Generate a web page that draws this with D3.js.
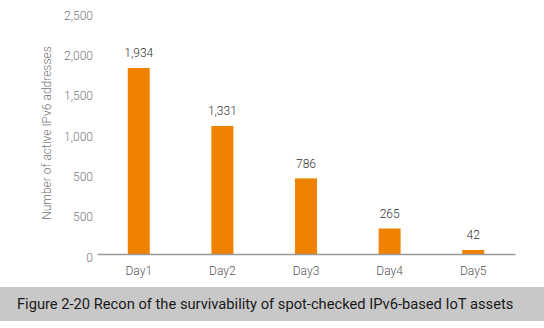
<!DOCTYPE html>
<html><head><meta charset="utf-8">
<script src="https://cdn.jsdelivr.net/npm/d3@7"></script>
<style>
html,body{margin:0;padding:0;background:#fff;}
svg{display:block;}
</style></head>
<body>
<svg id="chart" width="544" height="328"></svg>
<script>
const categories = ["Day1","Day2","Day3","Day4","Day5"];
const values = [1934, 1331, 786, 265, 42];
const valueLabels = ["1,934","1,331","786","265","42"];
const tickLabels = ["0","500","500","1,000","1,500","2,000","2,500"];
const yTitle = "Number of active IPv6 addresses";
const caption = "Figure 2-20 Recon of the survivability of spot-checked IPv6-based IoT assets";

const svg = d3.select("#chart");
const font = "Roboto, 'Noto Sans', sans-serif";

const x = d3.scaleBand().domain(categories).range([97, 515]).paddingInner(0.737).paddingOuter(0.368);
const y = d3.scaleLinear().domain([0, 2500]).range([254, 13.5]);
// tick labels are evenly spaced (as in the source), from label 0 just below the axis to the top
const yTick = d3.scaleLinear().domain([0, tickLabels.length - 1]).range([257, 15]);

// y axis labels
const yAxis = d3.axisLeft(yTick)
  .tickValues(d3.range(tickLabels.length))
  .tickFormat(i => tickLabels[i])
  .tickSize(0).tickPadding(0);
const gy = svg.append("g").attr("transform", "translate(93,0)").call(yAxis);
gy.select(".domain").remove();
gy.selectAll("text").attr("font-family", font).attr("font-size", 12).attr("font-weight", 300).attr("fill", "#777").attr("dy", "0.34em");

// bars
svg.append("g").selectAll("rect").data(values).join("rect")
  .attr("x", (d, i) => x(categories[i]))
  .attr("width", x.bandwidth())
  .attr("y", d => y(d))
  .attr("height", d => y(0) - y(d))
  .attr("fill", "#ef8200");

// value labels
svg.append("g").selectAll("text").data(values).join("text")
  .attr("x", (d, i) => x(categories[i]) + x.bandwidth() / 2)
  .attr("y", d => y(d) - 15)
  .attr("dy", "0.35em")
  .attr("text-anchor", "middle")
  .attr("font-family", font).attr("font-size", 12).attr("font-weight", 300).attr("fill", "#333")
  .text((d, i) => valueLabels[i]);

// x axis
const xAxis = d3.axisBottom(x).tickSize(0).tickPadding(12);
const gx = svg.append("g").attr("transform", `translate(0,${y(0)})`).call(xAxis);
gx.select(".domain").attr("stroke", "#999").attr("stroke-width", 1.3);
gx.selectAll("text").attr("font-family", font).attr("font-size", 12).attr("font-weight", 300).attr("fill", "#555");

// y title
svg.append("text")
  .attr("transform", "translate(47,133) rotate(-90)")
  .attr("text-anchor", "middle").attr("dy", "0.35em")
  .attr("font-family", font).attr("font-size", 12).attr("font-weight", 300).attr("fill", "#777")
  .text(yTitle);

// caption band
svg.append("rect").attr("x", 0).attr("y", 287).attr("width", 544).attr("height", 34).attr("fill", "#c8c8c8");
svg.append("text")
  .attr("x", 17).attr("y", 304).attr("dy", "0.35em")
  .attr("font-family", font).attr("font-size", 14.7).attr("fill", "#1a1a1a")
  .text(caption);
</script>
</body></html>
